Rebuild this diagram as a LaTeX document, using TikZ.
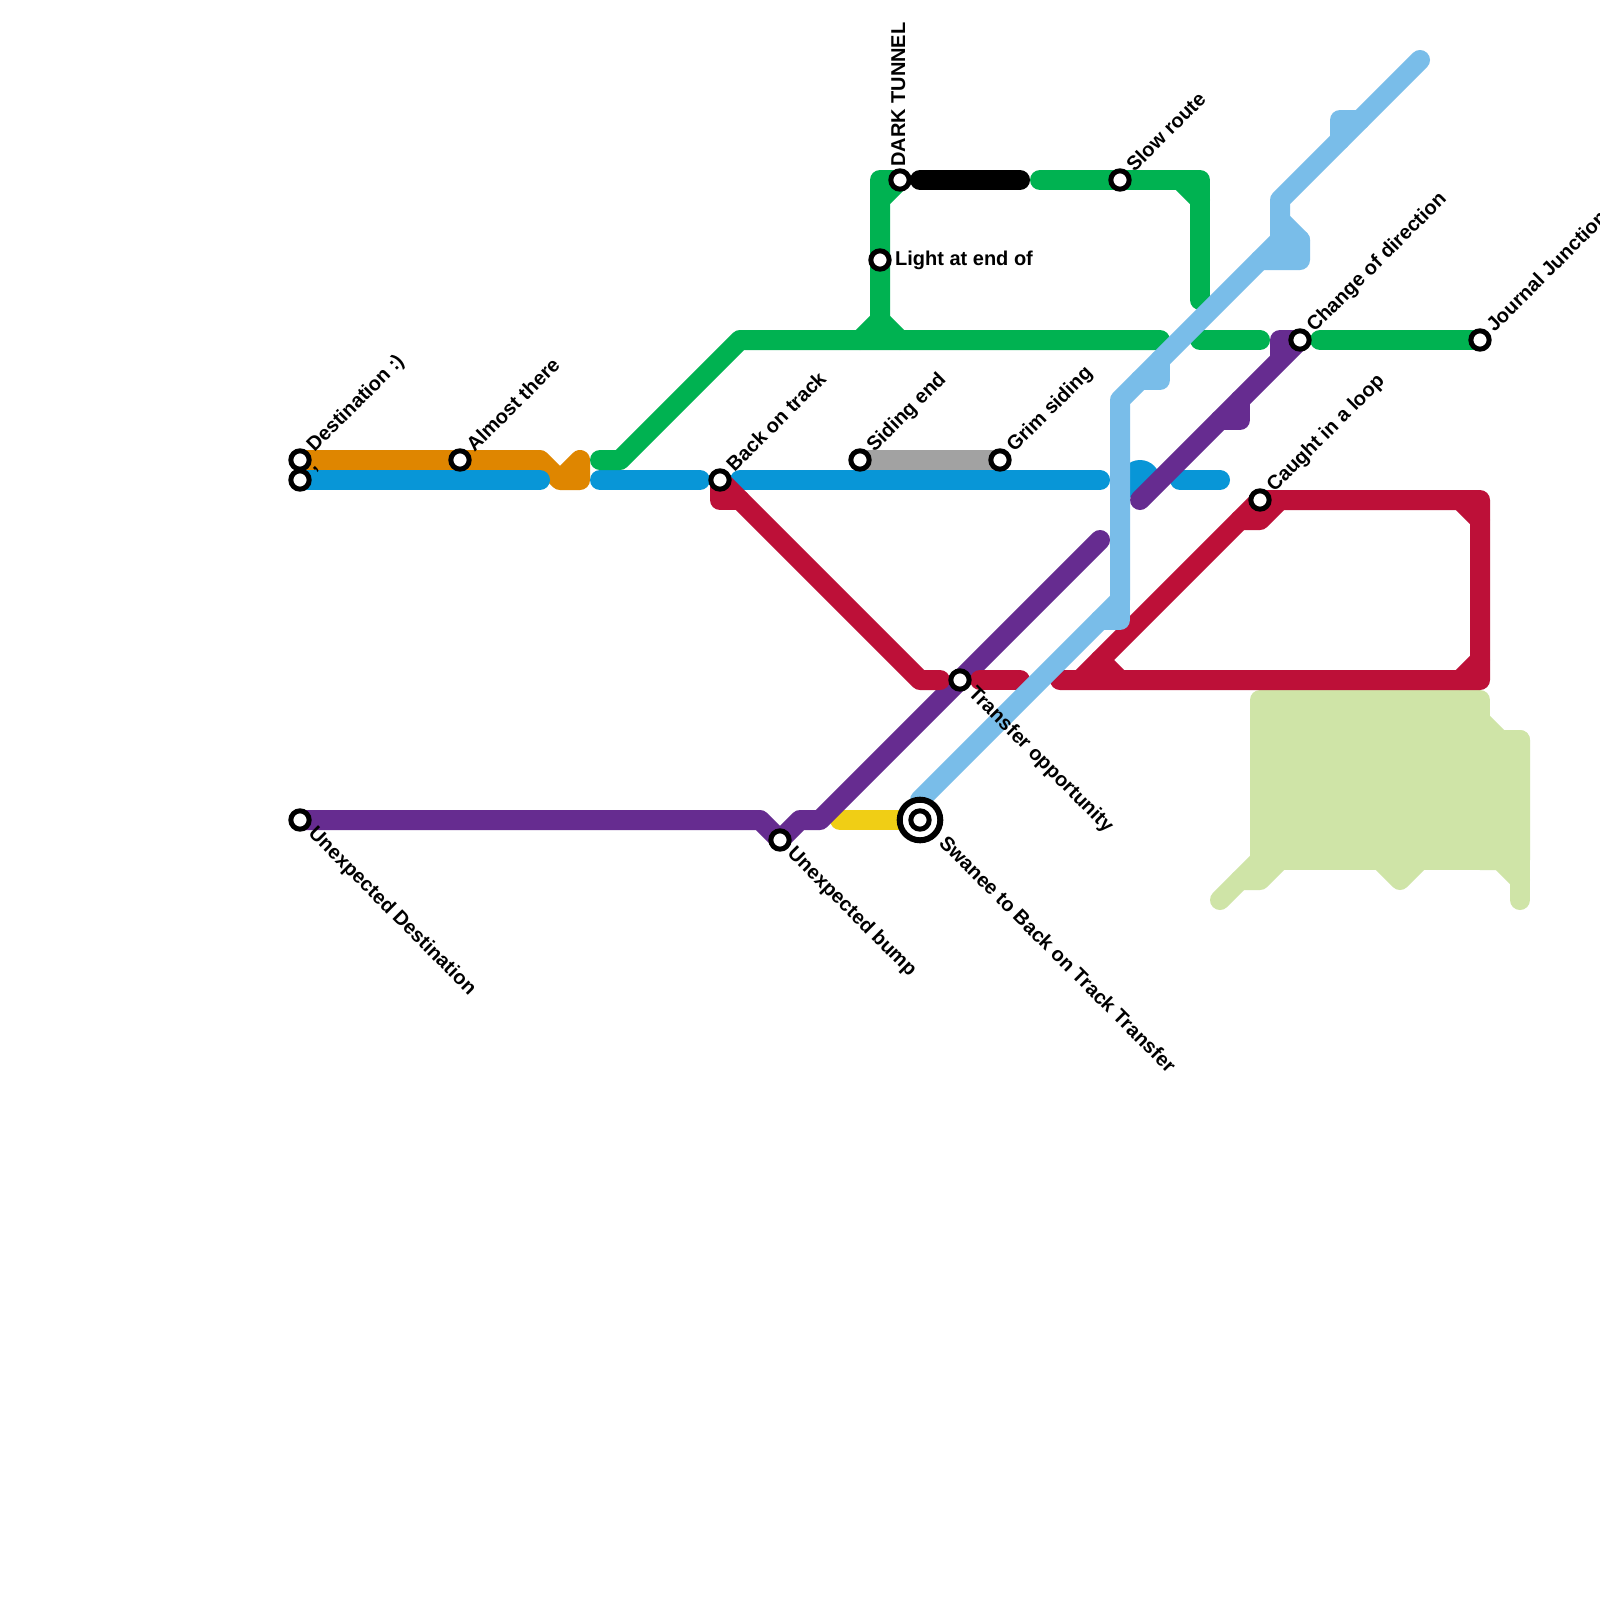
\documentclass[tikz,border=0pt]{standalone}
\usepackage{fontspec}
\setmainfont{Liberation Sans}
\usepackage{xcolor}
\definecolor{lineorange}{HTML}{DF8600}
\definecolor{lineblue}{HTML}{0896D7}
\definecolor{linegreen}{HTML}{00B251}
\definecolor{linered}{HTML}{BD1038}
\definecolor{linepurple}{HTML}{662C90}
\definecolor{linesky}{HTML}{79BDE9}
\definecolor{linegrey}{HTML}{A2A2A2}
\definecolor{lineyellow}{HTML}{F0CE15}
\definecolor{linepale}{HTML}{CFE4A7}
\usetikzlibrary{backgrounds}
\tikzset{
  track/.style={line width=1cm,line cap=round,line join=round},
  stop/.style={circle,draw=black,fill=white,line width=.25cm,minimum size=.917cm,inner sep=0pt},
  bigstop/.style={circle,draw=black,fill=white,line width=.3cm,minimum size=2.03cm,inner sep=0pt},
  stoplabel/.style={inner sep=0pt,font=\fontsize{28.45}{30}\selectfont\bfseries},
  uplabel/.style={stoplabel,anchor=base west,rotate=45},
  downlabel/.style={stoplabel,anchor=base west,rotate=-45},
}
\begin{document}
\begin{tikzpicture}[x=.05cm,y=-.05cm]
  \useasboundingbox (0,0) rectangle (1600,1600);

  \node[stop](destination) at (300,460) {};
  \node[stop](comma) at (300,480) {};
  \node[stop](almost) at (460,460) {};
  \node[stop](backon) at (720,480) {};
  \node[stop](sidingend) at (860,460) {};
  \node[stop](grim) at (1000,460) {};
  \node[stop](dark) at (900,180) {};
  \node[stop](light) at (880,260) {};
  \node[stop](slow) at (1120,180) {};
  \node[stop](change) at (1300,340) {};
  \node[stop](journal) at (1480,340) {};
  \node[stop](caught) at (1260,500) {};
  \node[stop](transfer) at (960,680) {};
  \node[stop](unexpected) at (300,820) {};
  \node[stop](bump) at (780,840) {};
  \node[bigstop](swanee) at (920,820) {};
  \node[stop](swaneein) at (swanee.center) {};
  \coordinate (skyend) at (920,800);

  \begin{scope}[on background layer]
    \fill[white] (0,0) rectangle (1600,1600);
    % pale line
    \draw[track,linepale,fill=linepale] (1260,700) rectangle (1480,860);
    \draw[track,linepale,fill=linepale] (1480,720) -- (1500,740) -- (1520,740) -- (1520,860) -- (1480,860) -- cycle;
    \draw[track,linepale] (1520,740) -- (1520,900);
    \draw[track,linepale] (1500,860) -- (1520,880);
    \draw[track,linepale] (1220,900) -- (1260,860);
    \draw[track,linepale] (1240,880) -- (1260,880) -- (1280,860);
    \draw[track,linepale] (1380,860) -- (1400,880) -- (1420,860);
    % orange
    \draw[track,lineorange] (destination.center) -- (540,460) -- (560,480) -- (580,480) -- (580,460) -- (560,480);
    % blue
    \draw[track,lineblue] (comma.center) -- (540,480);
    \draw[track,lineblue] (600,480) -- (700,480);
    \draw[track,lineblue] (740,480) -- (1100,480);
    \draw[track,lineblue] (1180,480) -- (1220,480);
    \fill[lineblue] (1140,480) circle (1cm);
    % grey and yellow
    \draw[track,linegrey] (sidingend.center) -- (grim.center);
    \draw[track,lineyellow] (840,820) -- (swanee.center);
    % purple
    \draw[track,linepurple] (unexpected.center) -- (760,820) -- (bump.center) -- (800,820) -- (820,820) -- (transfer.center) -- (1100,540);
    \draw[track,linepurple] (1140,500) -- (change.center) -- (1280,340) -- (1280,360);
    \draw[track,linepurple] (1220,420) -- (1240,420) -- (1240,400);
    % red
    \draw[track,linered] (backon.center) -- (920,680) -- (940,680);
    \draw[track,linered] (backon.center) -- (720,500) -- (740,500);
    \draw[track,linered] (980,680) -- (1020,680);
    \draw[track,linered] (1060,680) -- (1480,680) -- (1480,500) -- (caught.center) -- (1080,680);
    \draw[track,linered] (1100,660) -- (1120,680);
    \draw[track,linered] (1240,520) -- (1260,520) -- (1280,500);
    \draw[track,linered] (1460,500) -- (1480,520);
    \draw[track,linered] (1460,680) -- (1480,660);
    % green
    \draw[track,linegreen] (600,460) -- (620,460) -- (740,340) -- (1160,340);
    \draw[track,linegreen] (860,340) -- (880,320) -- (900,340);
    \draw[track,linegreen] (880,320) -- (light.center) -- (880,180) -- (dark.center) -- (880,200);
    \draw[track,linegreen] (1040,180) -- (slow.center) -- (1200,180) -- (1200,300);
    \draw[track,linegreen] (1180,180) -- (1200,200);
    \draw[track,linegreen] (1200,340) -- (1260,340);
    \draw[track,linegreen] (1320,340) -- (journal.center);
    % black
    \draw[track,black] (920,180) -- (1020,180);
    % sky
    \draw[track,linesky] (skyend) -- (1120,600) -- (1120,400) -- (1280,240) -- (1280,200) -- (1420,60);
    \draw[track,linesky] (1100,620) -- (1120,620) -- (1120,600);
    \draw[track,linesky] (1140,380) -- (1160,380) -- (1160,360);
    \draw[track,linesky] (1260,260) -- (1300,260) -- (1300,240) -- (1280,220);
    \draw[track,linesky] (1280,240) -- (1300,240);
    \fill[linesky] (1280,240) -- (1300,240) -- (1300,260) -- (1260,260) -- cycle;
    \draw[track,linesky] (1340,140) -- (1340,120) -- (1360,120);
  \end{scope}

  \node[uplabel](ldestination) at (314.5,453) {Destination :)};
  \node[uplabel](lcomma) at (314,472) {,};
  \node[uplabel](lalmost) at (474.5,453) {Almost there};
  \node[uplabel](lbackon) at (734.5,473) {Back on track};
  \node[uplabel](lsidingend) at (874.5,453) {Siding end};
  \node[uplabel](lgrim) at (1014.5,453) {Grim siding};
  \node[uplabel](lslow) at (1134.5,173) {Slow route};
  \node[uplabel](lchange) at (1314.5,333) {Change of direction};
  \node[uplabel](ljournal) at (1494.5,333) {Journal Junction};
  \node[uplabel](lcaught) at (1274.5,493) {Caught in a loop};
  \node[stoplabel,anchor=base west,rotate=90](ldark) at (905,167) {DARK TUNNEL};
  \node[stoplabel,anchor=base west](llight) at (895,265) {Light at end of};
  \node[downlabel](ltransfer) at (967.5,694.5) {Transfer opportunity};
  \node[downlabel](lunexpected) at (307.5,834.5) {Unexpected Destination};
  \node[downlabel](lbump) at (786.5,854.5) {Unexpected bump};
  \node[downlabel](lswanee) at (938,844) {Swanee to Back on Track Transfer};
\end{tikzpicture}
\end{document}
